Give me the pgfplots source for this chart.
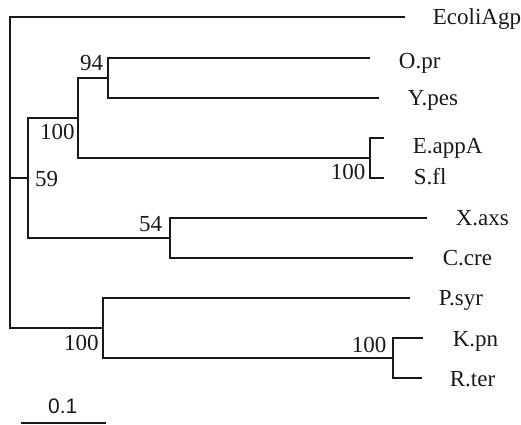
\documentclass[border=0pt]{standalone}
\usepackage{fontspec}
\setmainfont{Liberation Serif}
\newfontfamily\seriff{Liberation Serif}
\newfontfamily\sansf{Liberation Sans}
\usepackage{pgfplots}
\pgfplotsset{compat=1.18}
\begin{document}
\begin{tikzpicture}
\begin{axis}[
  width=521pt, height=425pt, scale only axis,
  xmin=0, xmax=521, ymin=0, ymax=425, y dir=reverse,
  hide axis, clip=false,
  tree/.style={line width=1.8pt, draw=black!90, line join=miter, line cap=butt, mark=none},
  nodes={font=\seriff\fontsize{23}{27}\selectfont, inner sep=0pt, anchor=base west, text=black!90},
]
\addplot[draw=none] coordinates {(0,0) (521,425)};
% root
\addplot[tree] coordinates {(405,17) (10,17) (10,328) (103,328)};
\addplot[tree] coordinates {(10,178) (28,178)};
% node 59
\addplot[tree] coordinates {(78,118) (28,118) (28,238) (170,238)};
% node 100a
\addplot[tree] coordinates {(108,78) (78,78) (78,158) (370,158)};
% node 94
\addplot[tree] coordinates {(370,58) (108,58) (108,98) (379,98)};
% E.appA / S.fl
\addplot[tree] coordinates {(384,138) (370,138) (370,178) (384,178)};
% node 54
\addplot[tree] coordinates {(427,218) (170,218) (170,258) (413,258)};
% node 100b
\addplot[tree] coordinates {(410,298) (103,298) (103,358) (393,358)};
% K.pn / R.ter
\addplot[tree] coordinates {(423,338) (393,338) (393,378) (422,378)};
% scale bar
\addplot[tree] coordinates {(21,423) (106,423)};

% leaf labels
\node at (axis cs:433,25) {EcoliAgp};
\node at (axis cs:399,69) {O.pr};
\node at (axis cs:408,106) {Y.pes};
\node at (axis cs:413,154) {E.appA};
\node at (axis cs:414,185) {S.fl};
\node at (axis cs:456,226) {X.axs};
\node at (axis cs:443,266) {C.cre};
\node at (axis cs:439,306) {P.syr};
\node at (axis cs:453,347) {K.pn};
\node at (axis cs:450,387) {R.ter};
% bootstrap values
\node at (axis cs:80,71) {94};
\node at (axis cs:40,140) {100};
\node at (axis cs:35,187) {59};
\node at (axis cs:139,232) {54};
\node at (axis cs:64,351) {100};
\node at (axis cs:331,180) {100};
\node at (axis cs:352,353) {100};
% scale label
\node[font=\sansf\fontsize{21}{25}\selectfont] at (axis cs:48,414) {0.1};
\end{axis}
\end{tikzpicture}
\end{document}
